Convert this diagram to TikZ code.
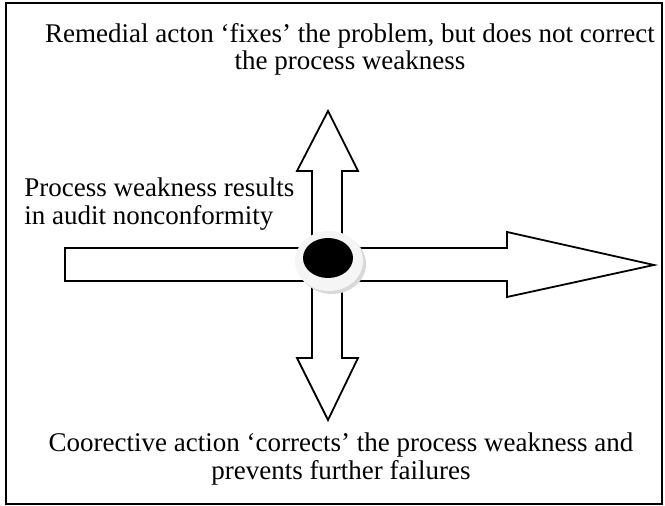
\documentclass[tikz,border=0pt]{standalone}
\usepackage{fontspec}
\setmainfont{Liberation Serif}
\usepackage{tikz}
\usetikzlibrary{positioning,calc}
\tikzset{
pwframe/.style={draw,line width=0.8pt},
pwblock/.style={draw,line width=0.9pt,fill=white,line join=miter},
pwshadow/.style={fill=gray!30,draw=none},
pwring/.style={fill=gray!8,draw=none},
pwhub/.style={fill=black,draw=none},
pwtext/.style={align=center,inner sep=0pt,font=\fontsize{13.5}{13.6}\selectfont},
pwside/.style={align=left,inner sep=0pt,font=\fontsize{13.5}{13.6}\selectfont}
}
\begin{document}
\begin{tikzpicture}[x=0.5pt,y=-0.5pt]
\useasboundingbox (0,0) rectangle (665,506);
\draw[pwframe] (6,3) rectangle (662,504);
% cross of block arrows
\draw[pwblock] (65,248) -- (312,248) -- (312,171) -- (297,171) -- (328,111)
  -- (358,171) -- (342,171) -- (342,248) -- (507,248) -- (507,232)
  -- (654,265) -- (507,297) -- (507,281) -- (342,281) -- (342,358)
  -- (358,358) -- (328,420) -- (297,358) -- (312,358) -- (312,281)
  -- (65,281) -- cycle;
% hub
\fill[pwshadow] (332,264) ellipse [x radius=34,y radius=30];
\fill[pwring] (329,261) ellipse [x radius=34,y radius=30];
\fill[pwhub] (328,258) ellipse [x radius=25,y radius=20];
\node[pwtext] (remedial) at (350,49) {Remedial acton `fixes' the problem, but does not correct\\the process weakness};
\node[pwside,anchor=west] (weakness) at (24,204) {Process weakness results\\in audit nonconformity};
\node[pwtext] (corrective) at (341,459) {Coorective action `corrects' the process weakness and\\prevents further failures};
\end{tikzpicture}
\end{document}
